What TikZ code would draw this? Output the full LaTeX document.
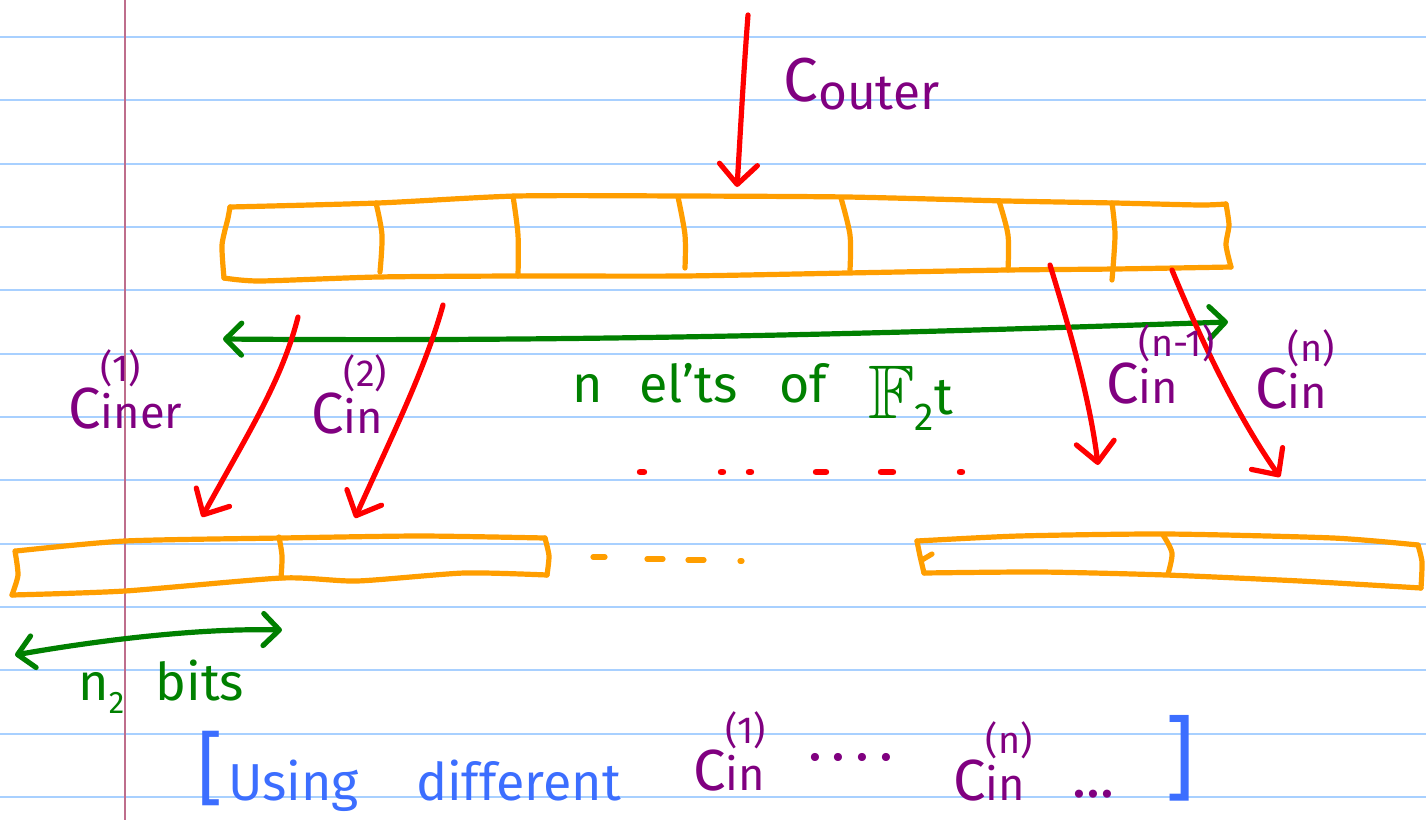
\documentclass[tikz,border=0pt]{standalone}
\usepackage{amssymb}
\usepackage{graphicx}
\usepackage{fontspec}
\setmainfont{Fira Sans}
\usepackage{tikz}
\usetikzlibrary{
    arrows.meta
}
\definecolor{inkorange}{RGB}{255,158,0}
\definecolor{inkred}{RGB}{255,0,0}
\definecolor{inkgreen}{RGB}{0,128,0}
\definecolor{inkpurple}{RGB}{128,0,128}
\definecolor{inkblue}{RGB}{60,110,255}
\definecolor{ruleblue}{RGB}{168,208,255}
\definecolor{marginred}{RGB}{190,110,140}

% C with a small index under and a tag over it
\newcommand{\cword}[2]{C\makebox[0pt][l]{\raisebox{0.8em}{\scalebox{0.65}{#2}}}\scalebox{0.78}{#1}}

\begin{document}
\begin{tikzpicture}[
        x=0.5pt, y=-0.5pt,
        >={Straight Barb[round, length=10pt, width=19pt]},
        ink/.style={line width=2.6pt, line cap=round, line join=round},
        cellbar/.style={ink, draw=inkorange},
        redarrow/.style={ink, draw=inkred, ->},
        greenarrow/.style={
            ink,
            draw=inkgreen,
            {Straight Barb[round, length=8pt, width=16pt]}-{Straight Barb[round, length=8pt, width=16pt]}
        },
        paperrule/.style={draw=ruleblue, line width=1pt},
        lbl/.style={inner sep=0pt, anchor=base west},
        purplelbl/.style={lbl, text=inkpurple, font=\fontsize{29}{30}\selectfont},
        greenlbl/.style={lbl, text=inkgreen, font=\fontsize{26}{28}\selectfont},
        bluelbl/.style={lbl, text=inkblue, font=\fontsize{26}{28}\selectfont}
    ]

    \fill[white] (0,0) rectangle (1426,820);
    \useasboundingbox (0,0) rectangle (1426,820);

    % notebook paper
    \foreach \ry in {0,...,12}
        \draw[paperrule] (0,{37+63.33*\ry}) -- (1426,{37+63.33*\ry});
    \draw[draw=marginred, line width=0.8pt] (125,0) -- (125,820);

    % outer codeword
    \draw[cellbar] plot[smooth, tension=.4] coordinates {(230,207) (378,203) (517,196) (683,196) (847,197) (1007,201) (1115,203) (1200,205) (1226,204)};
    \draw[cellbar] plot[smooth, tension=.4] coordinates {(1226,204) (1229,225) (1226,245) (1231,267)};
    \draw[cellbar] plot[smooth, tension=.4] coordinates {(1231,267) (1115,269) (1007,270) (847,273) (683,276) (517,276) (378,277) (260,281) (224,278)};
    \draw[cellbar] plot[smooth, tension=.4] coordinates {(224,278) (222,245) (228,218) (230,207)};
    \foreach \xa/\ya/\xb/\xc/\yc in {376/203/382/380/272, 513/196/518/518/276, 678/197/685/685/268, 841/198/850/850/270, 999/201/1008/1008/270, 1112/203/1115/1112/280}
        \draw[cellbar] plot[smooth] coordinates {(\xa,\ya) (\xb,235) (\xc,\yc)};

    % inner codewords
    \draw[cellbar] plot[smooth, tension=.4] coordinates {(16,551) (125,541) (282,538) (420,536) (545,538)};
    \draw[cellbar] plot[smooth, tension=.4] coordinates {(545,538) (549,556) (547,575)};
    \draw[cellbar] plot[smooth, tension=.4] coordinates {(547,575) (464,573) (357,581) (282,578) (125,591) (12,595)};
    \draw[cellbar] plot[smooth, tension=.4] coordinates {(12,595) (18,575) (15,551)};
    \draw[cellbar] plot[smooth] coordinates {(279,537) (282,556) (281,578)};

    \draw[cellbar] plot[smooth, tension=.4] coordinates {(917,541) (1019,536) (1166,534) (1333,538) (1418,545)};
    \draw[cellbar] plot[smooth, tension=.4] coordinates {(1418,545) (1422,562) (1421,588)};
    \draw[cellbar] plot[smooth, tension=.4] coordinates {(1421,588) (1300,581) (1166,575) (1040,572) (924,573)};
    \draw[cellbar] plot[smooth, tension=.4] coordinates {(924,573) (920,556) (917,541)};
    \draw[cellbar] (922,560) -- (932,554);
    \draw[cellbar] plot[smooth] coordinates {(1163,535) (1172,553) (1168,574)};

    \foreach \mx/\my/\mw in {599/557/6, 655/559/8, 696/560/8, 741/561/1}
        \draw[ink, draw=inkorange] ({\mx-\mw},\my) -- ({\mx+\mw},\my);
    \foreach \mx/\mw in {642/2, 722/1, 750/1, 821/5, 887/6, 961/1}
        \draw[ink, draw=inkred, line width=3.2pt] ({\mx-\mw},472) -- ({\mx+\mw},472);

    % arrow ends
    \coordinate (outS) at (748,15);
    \coordinate (outE) at (737,187);
    \coordinate (in1S) at (298,317);
    \coordinate (in1E) at (202,517);
    \coordinate (in2S) at (443,305);
    \coordinate (in2E) at (355,518);
    \coordinate (inn1S) at (1050,265);
    \coordinate (inn1E) at (1098,465);
    \coordinate (innS) at (1172,270);
    \coordinate (innE) at (1280,477);
    \coordinate (wideL) at (223,339);
    \coordinate (wideR) at (1228,322);
    \coordinate (bitsL) at (15,655);
    \coordinate (bitsR) at (282,630);

    \draw[greenarrow] (wideL) .. controls (600,342) and (900,333) .. (wideR);
    \draw[greenarrow] (bitsL) .. controls (100,640) and (200,628) .. (bitsR);

    \draw[redarrow] (outS) .. controls (743,80) and (740,140) .. (outE);
    \draw[redarrow] (in1S) .. controls (282,380) and (250,430) .. (in1E);
    \draw[redarrow] (in2S) .. controls (425,370) and (390,440) .. (in2E);
    \draw[redarrow] (inn1S) .. controls (1070,330) and (1090,400) .. (inn1E);
    \draw[redarrow] (innS) .. controls (1205,350) and (1240,420) .. (innE);

    % labels
    \node[purplelbl, font=\fontsize{31}{32}\selectfont] (couter) at (783,101) {C\raisebox{-4pt}{\scalebox{0.8}{outer}}};
    \node[purplelbl] (ciner) at (68,428) {\cword{iner}{(1)}};
    \node[purplelbl] (cin2) at (311,433) {\cword{in}{(2)}};
    \node[purplelbl] (cinn1) at (1106,403) {\cword{in}{(n-1)}};
    \node[purplelbl] (cinn) at (1255,408) {\cword{in}{(n)}};

    \node[greenlbl] (nelts) at (572,402) {n\hspace{0.7em}el’ts\hspace{0.8em}of\hspace{0.8em}\raisebox{-8pt}{\fontsize{38}{38}\selectfont$\mathbb{F}$}\raisebox{-14pt}{\scalebox{0.75}{2}}\raisebox{-6pt}{t}};
    \node[greenlbl] (nbits) at (78,700) {n\raisebox{-0.25em}{\scalebox{0.6}{2}}\hspace{0.6em}bits};

    \node[text=inkblue, inner sep=0pt, font=\fontsize{40}{40}\selectfont] (lbrack) at (210,768) {[};
    \node[bluelbl] (usingtxt) at (228,800) {Using\hspace{1.1em}different};
    \node[purplelbl] (cin1b) at (693,790) {\cword{in}{(1)}};
    \node[purplelbl] (dotsa) at (808,775) {·\,·\,·\,·};
    \node[purplelbl] (cinnb) at (953,800) {\cword{in}{(n)}};
    \node[purplelbl] (dotsb) at (1072,797) {...};
    \node[text=inkblue, inner sep=0pt, font=\fontsize{46}{46}\selectfont] (rbrack) at (1180,758) {]};

\end{tikzpicture}
\end{document}
